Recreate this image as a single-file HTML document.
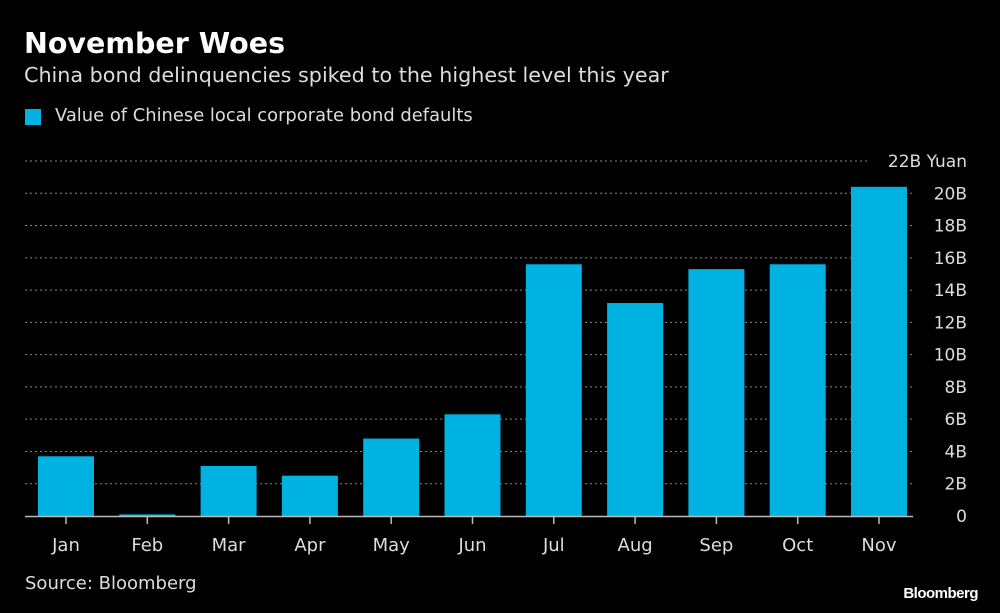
<!DOCTYPE html>
<html><head><meta charset="utf-8"><style>
body{margin:0;background:#000;width:1000px;height:613px;overflow:hidden;font-family:"DejaVu Sans","Liberation Sans",sans-serif;color:#ddd}
.t{position:absolute;white-space:nowrap}
</style></head><body>
<div class="t" style="left:24px;top:27px;font-size:28.5px;font-weight:bold;color:#fff">November Woes</div>
<div class="t" style="left:24px;top:63px;font-size:20.7px;color:#ddd">China bond delinquencies spiked to the highest level this year</div>
<div style="position:absolute;left:25px;top:109px;width:16px;height:16px;background:#00b2e2"></div>
<div class="t" style="left:55px;top:105px;font-size:17.9px;color:#ddd">Value of Chinese local corporate bond defaults</div>
<svg id="c" width="1000" height="613" style="position:absolute;left:0;top:0"></svg>
<div class="t" style="left:25px;top:573px;font-size:18px;color:#ddd">Source: Bloomberg</div>
<div class="t" style="right:22px;top:585px;font-size:15px;font-weight:bold;color:#fff;letter-spacing:-0.5px;font-family:'Liberation Sans',sans-serif">Bloomberg</div>
<script>
const months=["Jan","Feb","Mar","Apr","May","Jun","Jul","Aug","Sep","Oct","Nov"];
const values=[3.7,0.1,3.1,2.5,4.8,6.3,15.6,13.2,15.3,15.6,20.4];
const ticks=[0,2,4,6,8,10,12,14,16,18,20,22];
const ns="http://www.w3.org/2000/svg",svg=document.getElementById('c');
const y=v=>516-v*(516-161)/22, x=i=>66+i*81.3;
function mk(t,a){const e=document.createElementNS(ns,t);for(const k in a)e.setAttribute(k,a[k]);svg.appendChild(e);return e;}
ticks.forEach(v=>{
 if(v>0){const l=mk('line',{x1:25,x2:v==22?870:913,y1:y(v),y2:y(v),stroke:'#888','stroke-dasharray':'2,3','stroke-width':1});
 
 }
 const t=mk('text',{x:967,y:y(v)+6,'text-anchor':'end','font-size':17,fill:'#ddd','font-family':'DejaVu Sans'});
 t.textContent=v==0?'0':v==22?'22B Yuan':v+'B';
 
 
});
values.forEach((v,i)=>{
 const r=mk('rect',{x:x(i)-28,y:y(v),width:56,height:516-y(v),fill:'#00b2e2'});
 
 
});
const ax=mk('line',{x1:25,x2:913,y1:516.5,y2:516.5,stroke:'#bbb','stroke-width':1.5});


months.forEach((m,i)=>{
 const tk=mk('line',{x1:x(i),x2:x(i),y1:517,y2:524,stroke:'#bbb','stroke-width':1.5});
 
 
 const t=mk('text',{x:x(i),y:551,'text-anchor':'middle','font-size':18,fill:'#ddd','font-family':'DejaVu Sans'});
 t.textContent=m;
 
 
});
</script>
</body></html>
